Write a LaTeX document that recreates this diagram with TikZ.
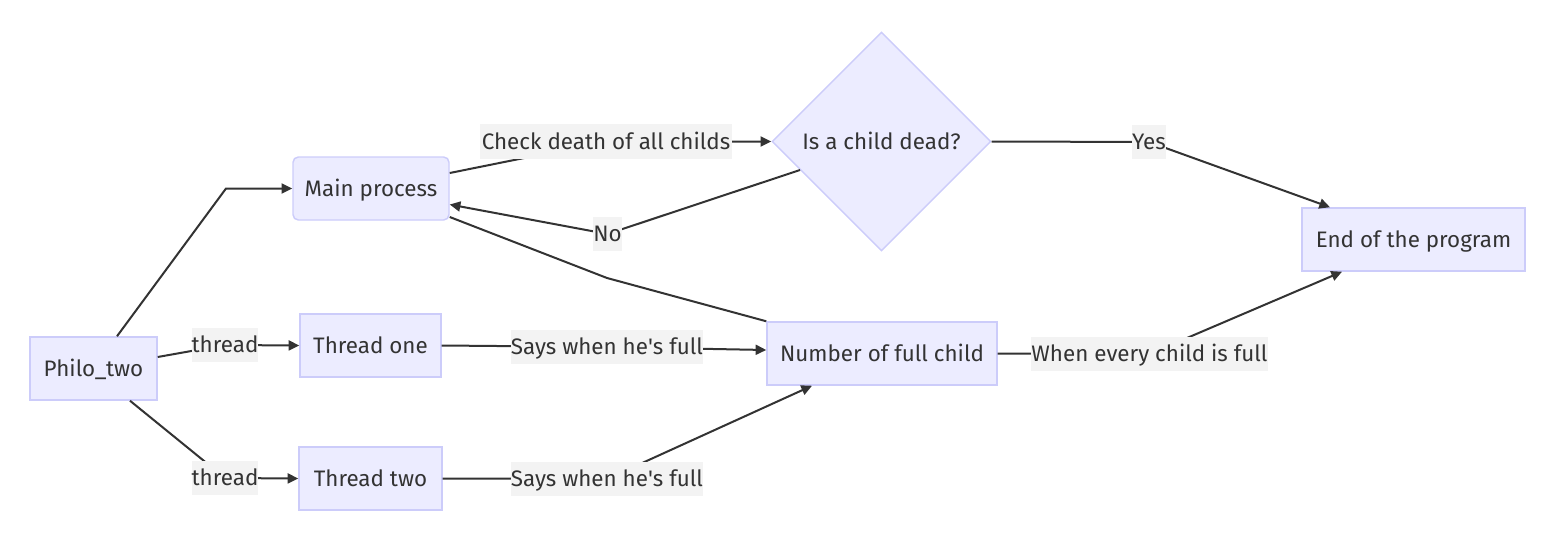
\documentclass[tikz,border=0pt]{standalone}
\usepackage{fontspec}
\setmainfont{Fira Sans}
\usetikzlibrary{shapes.geometric,arrows.meta,calc}
\definecolor{nodefill}{HTML}{ECECFF}
\definecolor{nodeline}{RGB}{204,204,250}
\definecolor{labelfill}{HTML}{F3F3F3}
\definecolor{ink}{HTML}{333333}
\tikzset{
  box/.style={draw=nodeline, fill=nodefill, line width=1.1pt, inner sep=0pt, text=ink,
    font=\fontsize{16.8}{20}\selectfont, text height=11.6pt, text depth=0pt},
  decision/.style={box, diamond, aspect=1},
  elabel/.style={fill=labelfill, inner sep=0pt, text=ink,
    font=\fontsize{16.8}{20}\selectfont, text height=11.6pt, text depth=0pt},
  link/.style={draw=ink, line width=1.5pt},
  arrowlink/.style={link, -{Triangle[length=8pt,width=7.5pt]}},
}
\begin{document}
\begin{tikzpicture}[x=0.75pt,y=-0.75pt]
\useasboundingbox (0,0) rectangle (1564,542);
% nodes
\node[box, minimum width=95.25pt, minimum height=47.25pt] (philo) at (93.5,368.5) {Philo\_two};
\node[box, rounded corners=4pt, minimum width=117pt, minimum height=47.25pt] (main) at (371,188.5) {Main process};
\node[box, minimum width=105.75pt, minimum height=47.25pt] (t1) at (370.5,345.5) {Thread one};
\node[box, minimum width=107.25pt, minimum height=47.25pt] (t2) at (370.5,478.5) {Thread two};
\node[decision, minimum width=164.25pt, minimum height=164.25pt] (dead) at (881.5,141.5) {Is a child dead?};
\node[box, minimum width=172.5pt, minimum height=47.25pt] (num) at (882,353.5) {Number of full child};
\node[box, minimum width=167.25pt, minimum height=47.25pt] (endp) at (1413.5,239.5) {End of the program};
% label anchors
\coordinate (th1c) at (225,345);
\coordinate (th2c) at (225,478);
\coordinate (chkc) at (606,141.5);
\coordinate (noc) at (607.5,234);
\coordinate (yesc) at (1149,142);
\coordinate (s1c) at (607,347);
\coordinate (s2c) at (607,479);
\coordinate (everyc) at (1149.5,354);
\coordinate (bend1) at (226,188.5);
\coordinate (bend6) at (607,278);
% edges
\draw[arrowlink] ($(philo.north)+(23.5,0)$) -- (bend1) -- (main.west);
\draw[arrowlink] ($(philo.east)+(0,-11.5)$) -- (th1c) -- (t1.west);
\draw[arrowlink] ($(philo.south)+(36.5,0)$) -- (th2c) -- (t2.west);
\draw[arrowlink] ($(main.east)+(0,-15.5)$) -- (chkc) -- (dead.west);
\draw[arrowlink] ($(dead.center)+(-81.5,28.5)$) -- (noc) -- ($(main.east)+(0,16)$);
\draw[link] ($(main.east)+(0,28.5)$) -- (bend6) -- (num.north west);
\draw[arrowlink] (t1.east) -- (s1c) -- ($(num.west)+(0,-3.5)$);
\draw[arrowlink] (t2.east) -- (s2c) -- ($(num.south)+(-70,0)$);
\draw[arrowlink] (dead.east) -- (yesc) -- ($(endp.north)+(-83.5,0)$);
\draw[arrowlink] (num.east) -- (everyc) -- ($(endp.south)+(-71.5,0)$);
% edge labels
\node[elabel, minimum width=49.5pt, minimum height=25.5pt] (th1) at (th1c) {thread};
\node[elabel, minimum width=49.5pt, minimum height=25.5pt] (th2) at (th2c) {thread};
\node[elabel, minimum width=189pt, minimum height=26.25pt] (chk) at (chkc) {Check death of all childs};
\node[elabel, minimum width=20.25pt, minimum height=25.5pt] (no) at (noc) {No};
\node[elabel, minimum width=24pt, minimum height=25.5pt] (yes) at (yesc) {Yes};
\node[elabel, minimum width=141pt, minimum height=25.5pt] (s1) at (s1c) {Says when he\textquotesingle s full};
\node[elabel, minimum width=141pt, minimum height=25.5pt] (s2) at (s2c) {Says when he\textquotesingle s full};
\node[elabel, minimum width=177.75pt, minimum height=25.5pt] (every) at (everyc) {When every child is full};
\end{tikzpicture}
\end{document}
